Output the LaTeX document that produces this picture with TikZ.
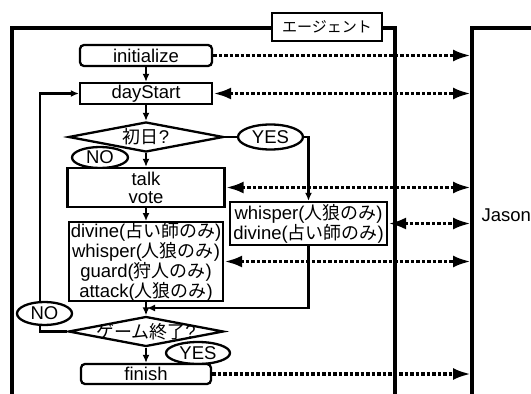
\documentclass[tikz,border=0pt]{standalone}
\usepackage{fontspec}
\setmainfont{Liberation Sans}
\newfontfamily\jp{Noto Sans CJK JP}[Scale=0.97]
\usetikzlibrary{arrows.meta}
\usetikzlibrary{shapes.geometric}

\begin{document}
\begin{tikzpicture}[x=1pt, y=-1pt,
    font=\fontsize{18.5}{18}\selectfont,
    box/.style={draw, line width=2.3pt, inner sep=0pt, align=center, fill=white},
    rbox/.style={box, rounded corners=4pt},
    decide/.style={draw, line width=2.3pt, diamond, inner sep=0pt, minimum width=155pt, minimum height=30pt},
    tag/.style={draw, line width=2.3pt, ellipse, inner sep=0pt, fill=white},
    frame/.style={line width=3.3pt},
    flow/.style={line width=2.3pt, -{Latex[length=8pt,width=7pt]}},
    msg/.style={line width=3.5pt, dash pattern=on 3.5pt off 2pt},
    msgto/.style={msg, -{Latex[length=18pt,width=12pt]}},
    msgboth/.style={msg, {Latex[length=18pt,width=12pt]}-{Latex[length=18pt,width=12pt]}}
  ]
      \useasboundingbox (0,0) rectangle (531,394);

      % frames
      \draw [frame] (12,400) -- (12,28) -- (395,28) -- (395,400);
      \draw [frame] (472,400) -- (472,28) -- (540,28);
      \node [box, minimum width=110pt, minimum height=28pt, font=\jp\fontsize{15.5}{15.5}\selectfont] (agent) at (327,27) {エージェント};
      \node [anchor=west] (jasonname) at (478,215) {Jason};
      \coordinate (jason) at (471,0);

      % flow nodes
      \node [rbox, minimum width=132pt, minimum height=21pt] (init) at (146,55.5) {initialize};
      \node [box, minimum width=132pt, minimum height=21pt] (day) at (146,93.5) {dayStart};
      \node [decide, label={center:{\jp 初日}?}] (first) at (146,137) {};
      \node [tag, minimum width=56pt, minimum height=21pt] (no1) at (100,157.5) {NO};
      \node [tag, minimum width=65pt, minimum height=25pt] (yes1) at (270.5,137) {YES};
      \node [box, minimum width=157pt, minimum height=39pt] (talk) at (146,187.5) {talk\\vote};
      \node [box, minimum width=157pt, minimum height=43pt] (wolf) at (308.5,223.5) {whisper({\jp 人狼のみ})\\divine({\jp 占い師のみ})};
      \node [box, minimum width=154pt, minimum height=77pt] (night) at (146,261.5) {divine({\jp 占い師のみ})\\whisper({\jp 人狼のみ})\\guard({\jp 狩人のみ})\\attack({\jp 人狼のみ})};
      \node [decide, label={center:{\jp ゲーム終了}?}] (over) at (146,331.5) {};
      \node [tag, minimum width=64pt, minimum height=22pt] (yes2) at (198,353) {YES};
      \node [rbox, minimum width=130pt, minimum height=20pt] (finish) at (146,374) {finish};

      % messages to Jason
      \draw [msgto] (init.east) -- (init.east -| jason);
      \draw [msgboth] (day.east) -- (day.east -| jason);
      \draw [msgboth] (talk.east) -- (talk.east -| jason);
      \draw [msgboth] (wolf.east) -- (wolf.east -| jason);
      \draw [msgboth] (night.east) -- (night.east -| jason);
      \draw [msgto] (finish.east) -- (finish.east -| jason);

      % flow
      \draw [flow] (init) -- (day);
      \draw [flow] (day) -- (first);
      \draw [flow] (first) -- (talk);
      \draw [line width=2.3pt] (first.east) -- (yes1.west);
      \draw [flow] (yes1.east) -| (wolf.north);
      \draw [flow] (talk) -- (night);
      \draw [flow] (night) -- (over);
      \draw [flow] (over) -- (finish);
      \coordinate (merge) at (147,308);
      \draw [flow] (wolf.south) |- (merge);
      \coordinate (back) at (40,331.5);
      \draw [flow] (over.west) -- (back) |- (day.west);
      \node [tag, minimum width=55pt, minimum height=23pt] (no2) at (44.5,313.5) {NO};
    \end{tikzpicture}
\end{document}
